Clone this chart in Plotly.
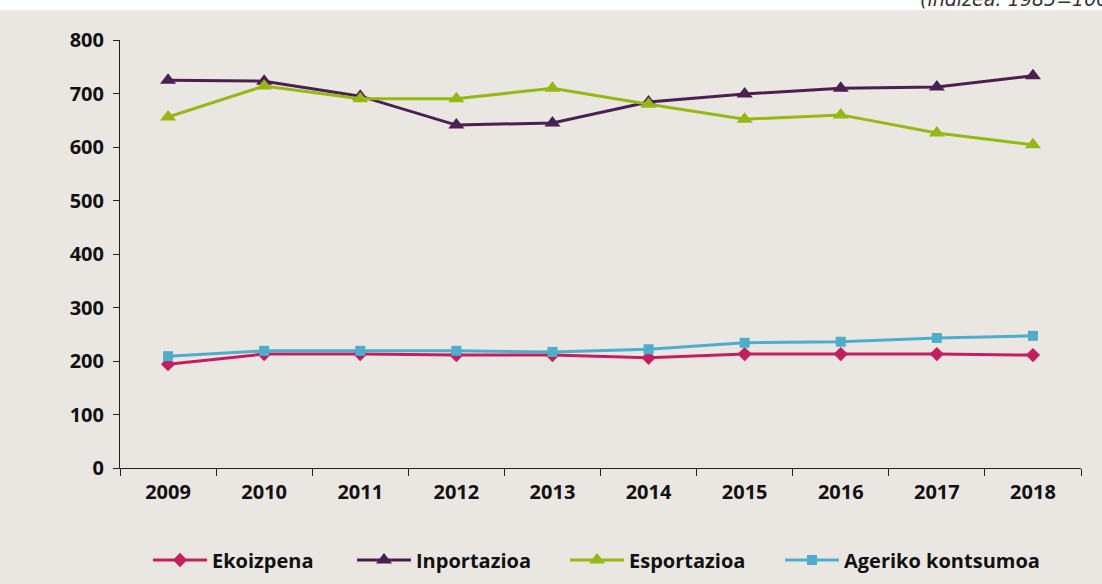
import plotly.graph_objects as go

years = ["2009", "2010", "2011", "2012", "2013", "2014", "2015", "2016", "2017", "2018"]
ekoizpena = [194, 213, 213, 211, 211, 206, 213, 213, 213, 211]
inportazioa = [725, 723, 695, 641, 645, 684, 699, 710, 712, 733]
esportazioa = [656, 714, 690, 690, 710, 680, 652, 660, 626, 604]
ageriko = [209, 219, 219, 219, 217, 222, 234, 236, 243, 247]
y_ticks = [0, 100, 200, 300, 400, 500, 600, 700, 800]
note = "(indizea: 1985=100)"

FONT = "Open Sans"
PLOT_L, PLOT_T, PLOT_B, PLOT_W, PLOT_H = 120, 40, 468, 961, 428

fig = go.Figure()
series = [
    ("Ekoizpena", ekoizpena, "#C41E5E", "diamond", 11, "legend", 148),
    ("Inportazioa", inportazioa, "#4B1F4F", "triangle-up", 14, "legend2", 352),
    ("Esportazioa", esportazioa, "#97B812", "triangle-up", 14, "legend3", 565),
    ("Ageriko kontsumoa", ageriko, "#4DAECB", "square", 10, "legend4", 780),
]
legends = {}
for name, vals, col, sym, sz, lg, lx in series:
    fig.add_trace(go.Scatter(
        x=years, y=vals, name=name, mode="lines+markers",
        line=dict(color=col, width=3),
        marker=dict(symbol=sym, size=sz, color=col),
        legend=lg,
    ))
    legends[lg] = dict(orientation="h", x=(lx - PLOT_L) / PLOT_W, xanchor="left",
                       y=(PLOT_B - 560) / PLOT_H, yanchor="middle",
                       font=dict(family=FONT, size=20, color="#111111", weight="bold"),
                       itemwidth=54, bgcolor="rgba(0,0,0,0)")

fig.update_layout(
    width=1102, height=584,
    margin=dict(l=120, r=21, t=40, b=116, autoexpand=False),
    paper_bgcolor="#EAE7E3", plot_bgcolor="#EAE7E3",
    font=dict(family=FONT, size=20, color="#111111", weight="bold"),
    showlegend=True,
    xaxis=dict(type="category", showgrid=False, showline=True, linecolor="#222222", linewidth=1,
               ticks="outside", tickson="boundaries", ticklen=7, tickcolor="#222222",
               tickfont=dict(family=FONT, size=20, color="#111111", weight="bold"),
               ticklabelstandoff=6, range=[-0.5, 9.5]),
    yaxis=dict(range=[0, 800], tickvals=y_ticks, showgrid=False, showline=True,
               linecolor="#222222", linewidth=1, ticks="outside", ticklen=6, tickcolor="#222222",
               tickfont=dict(family=FONT, size=20, color="#111111", weight="bold"),
               ticklabelstandoff=5, zeroline=False),
    shapes=[dict(type="rect", xref="paper", yref="paper", x0=-0.2, x1=1.1,
                 y0=(PLOT_B - 10) / PLOT_H, y1=2,
                 fillcolor="white", line=dict(width=0), layer="below")],
    annotations=[dict(text=note, xref="paper", yref="paper",
                      x=(918 - PLOT_L) / PLOT_W, xanchor="left",
                      y=(PLOT_B + 1) / PLOT_H, yanchor="middle", showarrow=False,
                      font=dict(family="DejaVu Sans", size=19, color="#333333", style="italic",
                                weight="normal"))],
    **legends,
)

fig.write_html("out.html", config={"displayModeBar": False},
               post_script="document.body.style.margin='0';document.body.style.overflow='hidden';")
